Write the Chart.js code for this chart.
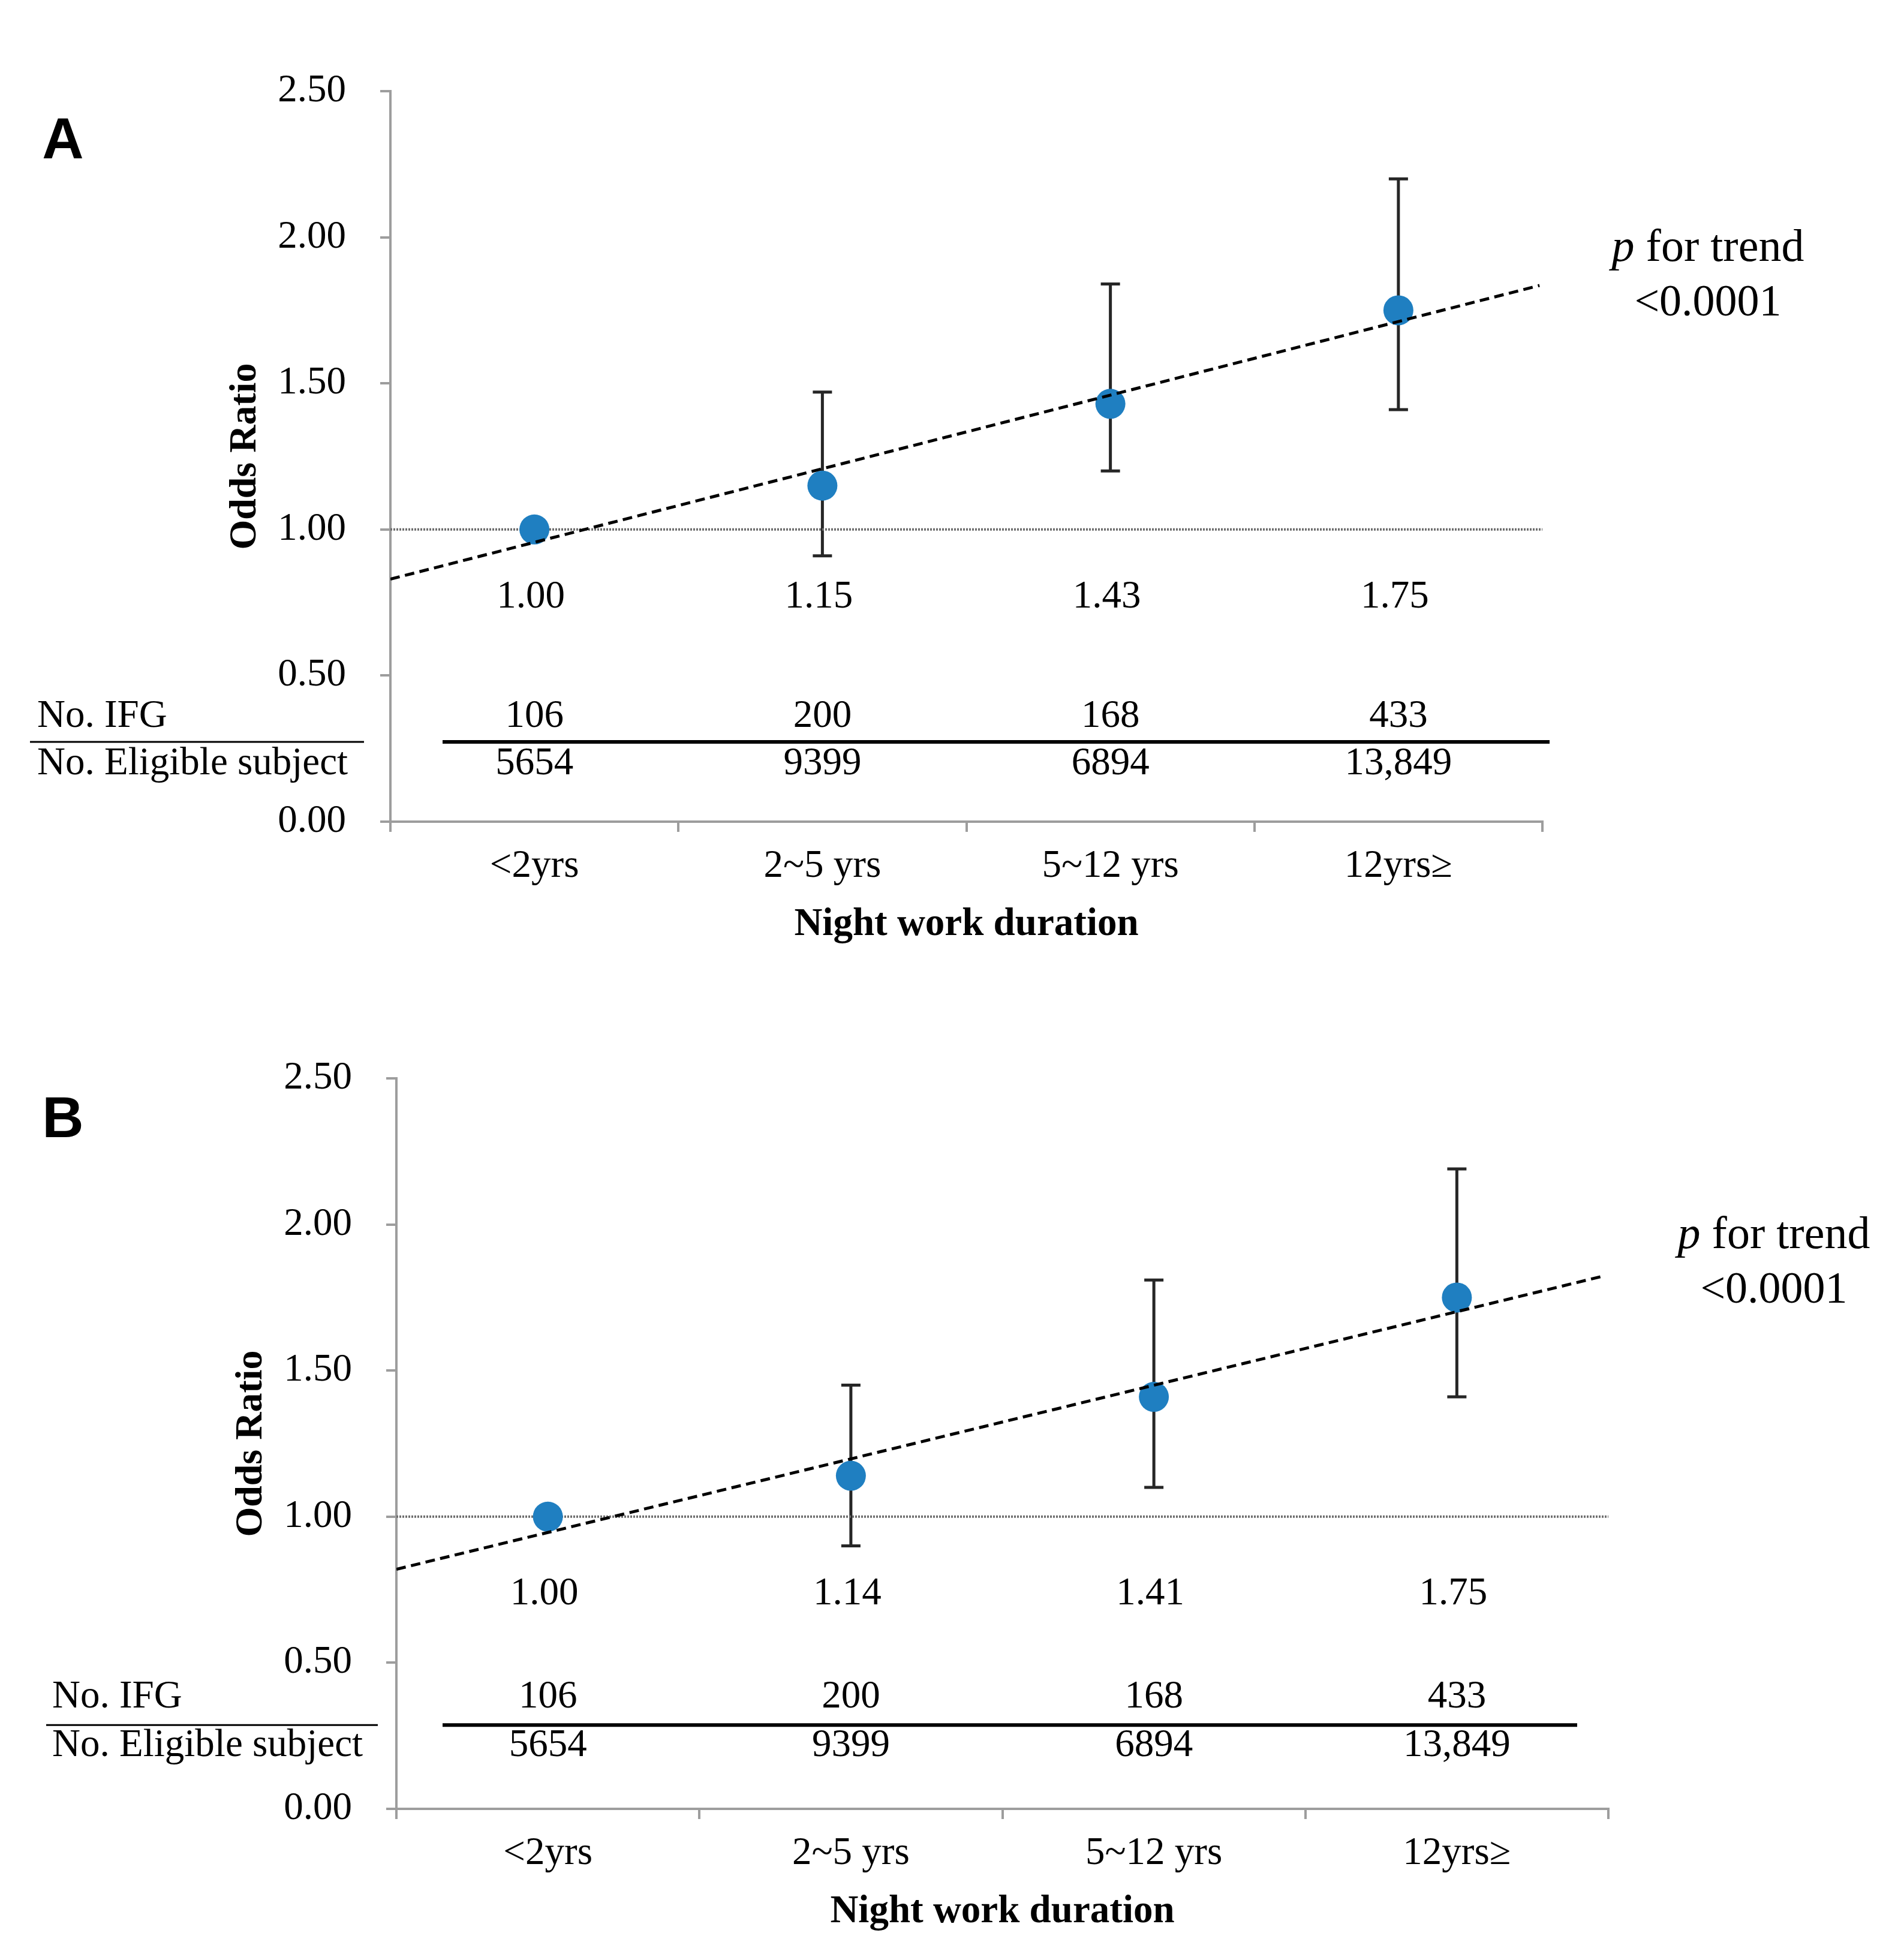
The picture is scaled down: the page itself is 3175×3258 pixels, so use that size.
<!DOCTYPE html>
<html>
<head>
<meta charset="utf-8">
<script src="https://cdn.jsdelivr.net/npm/chart.js@4.4.1/dist/chart.umd.min.js"></script>
<style>
  body { margin: 0; background: #fff; }
  #wrap { position: relative; width: 3175px; height: 3258px; }
  canvas { position: absolute; left: 0; }
</style>
</head>
<body>
<div id="wrap">
  <canvas id="chartA" width="3175" height="1620" style="top:0px"></canvas>
  <canvas id="chartB" width="3175" height="1612" style="top:1646px"></canvas>
</div>
<script>
// ---- data ----
const categories = ["<2yrs", "2~5 yrs", "5~12 yrs", "12yrs≥"];

const oddsA = [1.00, 1.15, 1.43, 1.75];
const lowA = [1.00, 0.91, 1.20, 1.41];
const highA = [1.00, 1.47, 1.84, 2.20];

const oddsB = [1.00, 1.14, 1.41, 1.75];
const lowB = [1.00, 0.90, 1.10, 1.41];
const highB = [1.00, 1.45, 1.81, 2.19];

// trend line end points (x in category index units)
const trendX = [-0.5, 3.49];
const trendA = [0.83, 1.835];
const trendB = [0.82, 1.825];

const ifgCounts = ["106", "200", "168", "433"];
const eligibleCounts = ["5654", "9399", "6894", "13,849"];

const yMin = 0;
const yMax = 2.5;
const yStep = 0.5;
const refLine = 1.0;

const SERIF = "'Liberation Serif', 'Times New Roman', serif";
const SANS = "'Liberation Sans', Arial, sans-serif";
const AXIS_GRAY = "#9d9d9d";
const DOT_BLUE = "#1f7fc1";

// layout per panel (pixels / value rows used for the text table)
const panels = [
  {
    id: "chartA", letter: "A", odds: oddsA, low: lowA, high: highA, trend: trendA,
    areaLeft: 651, areaRight: 2572, canvasH: 1620,
    orRow: 0.768, ifgRow: 0.359, lineRow: 0.273, eligRow: 0.197,
    tableLeft: 62, sideLine: [50, 607], mainLine: [738, 2584],
    letterY: 238
  },
  {
    id: "chartB", letter: "B", odds: oddsB, low: lowB, high: highB, trend: trendB,
    areaLeft: 661, areaRight: 2682, canvasH: 1612,
    orRow: 0.735, ifgRow: 0.381, lineRow: 0.287, eligRow: 0.215,
    tableLeft: 87, sideLine: [77, 630], mainLine: [738, 2630],
    letterY: 224
  }
];

const Y_SCALE_W = 300;
const X_SCALE_H = 230;
const AREA_TOP = 152;
const AREA_BOTTOM = 1370;

// error bars under the points
const errorBarPlugin = {
  id: "errorBars",
  beforeDatasetsDraw(chart, args, opts) {
    const { ctx } = chart;
    const x = chart.scales.x;
    const y = chart.scales.y;
    ctx.save();
    ctx.strokeStyle = "#262626";
    ctx.lineWidth = 5;
    opts.low.forEach((lo, i) => {
      const hi = opts.high[i];
      if (lo === hi) return;
      const px = x.getPixelForValue(i);
      const y1 = y.getPixelForValue(lo);
      const y2 = y.getPixelForValue(hi);
      ctx.beginPath();
      ctx.moveTo(px, y1); ctx.lineTo(px, y2);
      ctx.moveTo(px - 16, y1); ctx.lineTo(px + 16, y1);
      ctx.moveTo(px - 16, y2); ctx.lineTo(px + 16, y2);
      ctx.stroke();
    });
    ctx.restore();
  }
};

// value labels, count table, p for trend and panel letter
const annotatePlugin = {
  id: "annotate",
  afterDraw(chart, args, p) {
    const { ctx, chartArea } = chart;
    const x = chart.scales.x;
    const y = chart.scales.y;
    ctx.save();
    ctx.fillStyle = "#000";
    ctx.textBaseline = "middle";

    // odds ratio values under each point
    ctx.font = "65px " + SERIF;
    ctx.textAlign = "center";
    p.odds.forEach((v, i) => {
      ctx.fillText(v.toFixed(2), x.getPixelForValue(i) - 6, y.getPixelForValue(p.orRow));
    });

    // counts
    ifgCounts.forEach((c, i) => {
      ctx.fillText(c, x.getPixelForValue(i), y.getPixelForValue(p.ifgRow));
    });
    eligibleCounts.forEach((c, i) => {
      ctx.fillText(c, x.getPixelForValue(i), y.getPixelForValue(p.eligRow));
    });

    // row titles
    ctx.textAlign = "left";
    ctx.fillText("No. IFG", p.tableLeft, y.getPixelForValue(p.ifgRow));
    ctx.fillText("No. Eligible subject", p.tableLeft, y.getPixelForValue(p.eligRow));

    // fraction lines
    const ly = y.getPixelForValue(p.lineRow);
    ctx.strokeStyle = "#000";
    ctx.lineWidth = 3;
    ctx.beginPath();
    ctx.moveTo(p.sideLine[0], ly); ctx.lineTo(p.sideLine[1], ly);
    ctx.stroke();
    ctx.lineWidth = 6;
    ctx.beginPath();
    ctx.moveTo(p.mainLine[0], ly); ctx.lineTo(p.mainLine[1], ly);
    ctx.stroke();

    // p for trend
    const cx = chartArea.right + 276;
    ctx.font = "76px " + SERIF;
    const w1 = ctx.measureText(" for trend").width;
    ctx.font = "italic 76px " + SERIF;
    const wp = ctx.measureText("p").width;
    const startX = cx - (w1 + wp) / 2;
    const ty = y.getPixelForValue(1.96);
    ctx.textAlign = "left";
    ctx.fillText("p", startX, ty);
    ctx.font = "76px " + SERIF;
    ctx.fillText(" for trend", startX + wp, ty);
    ctx.textAlign = "center";
    ctx.font = "74px " + SERIF;
    ctx.fillText("<0.0001", cx, y.getPixelForValue(1.773));

    // panel letter
    ctx.font = "bold 96px " + SANS;
    ctx.fillText(p.letter, 105, p.letterY);
    ctx.restore();
  }
};

function makeChart(p) {
  const ctx = document.getElementById(p.id);
  const refData = [{ x: -0.5, y: refLine }, { x: 3.5, y: refLine }];
  const trendData = trendX.map((tx, i) => ({ x: tx, y: p.trend[i] }));

  return new Chart(ctx, {
    type: "line",
    data: {
      labels: categories,
      datasets: [
        {
          label: "Trend",
          data: trendData,
          xAxisID: "xt",
          borderColor: "#000",
          borderWidth: 5,
          borderDash: [16, 9],
          pointRadius: 0,
          fill: false,
          order: 0
        },
        {
          label: "Odds ratio",
          data: p.odds,
          showLine: false,
          pointRadius: 25,
          pointBackgroundColor: DOT_BLUE,
          pointBorderWidth: 0,
          order: 1
        },
        {
          label: "Reference",
          data: refData,
          xAxisID: "xt",
          borderColor: "#6e6e6e",
          borderWidth: 4,
          borderDash: [3, 2],
          pointRadius: 0,
          fill: false,
          order: 2
        }
      ]
    },
    options: {
      responsive: false,
      devicePixelRatio: 1,
      animation: false,
      layout: {
        padding: {
          left: p.areaLeft - Y_SCALE_W,
          right: 3175 - p.areaRight,
          top: AREA_TOP,
          bottom: p.canvasH - AREA_BOTTOM - X_SCALE_H
        }
      },
      plugins: {
        legend: { display: false },
        tooltip: { enabled: false },
        errorBars: { low: p.low, high: p.high },
        annotate: p
      },
      scales: {
        x: {
          type: "category",
          offset: true,
          grid: {
            offset: true,
            drawOnChartArea: false,
            drawTicks: true,
            tickLength: 17,
            color: AXIS_GRAY,
            lineWidth: 4
          },
          border: { display: true, color: AXIS_GRAY, width: 4 },
          ticks: {
            color: "#000",
            padding: 19,
            maxRotation: 0,
            font: { family: SERIF, size: 65 }
          },
          title: {
            display: true,
            text: "Night work duration",
            color: "#000",
            padding: { top: 0, bottom: 19 },
            font: { family: SERIF, size: 65, weight: "bold" }
          },
          afterFit(scale) { scale.height = X_SCALE_H; }
        },
        xt: {
          type: "linear",
          display: false,
          min: -0.5,
          max: 3.5
        },
        y: {
          min: yMin,
          max: yMax,
          ticks: {
            stepSize: yStep,
            color: "#000",
            padding: 57,
            font: { family: SERIF, size: 65 },
            callback: (v) => Number(v).toFixed(2)
          },
          grid: {
            drawOnChartArea: false,
            drawTicks: true,
            tickLength: 17,
            color: AXIS_GRAY,
            lineWidth: 4
          },
          border: { display: true, color: AXIS_GRAY, width: 4 },
          title: {
            display: true,
            text: "Odds Ratio",
            color: "#000",
            padding: { top: 20, bottom: 0 },
            font: { family: SERIF, size: 64, weight: "bold" }
          },
          afterFit(scale) { scale.width = Y_SCALE_W; }
        }
      }
    },
    plugins: [errorBarPlugin, annotatePlugin]
  });
}

panels.forEach(makeChart);
</script>
</body>
</html>
